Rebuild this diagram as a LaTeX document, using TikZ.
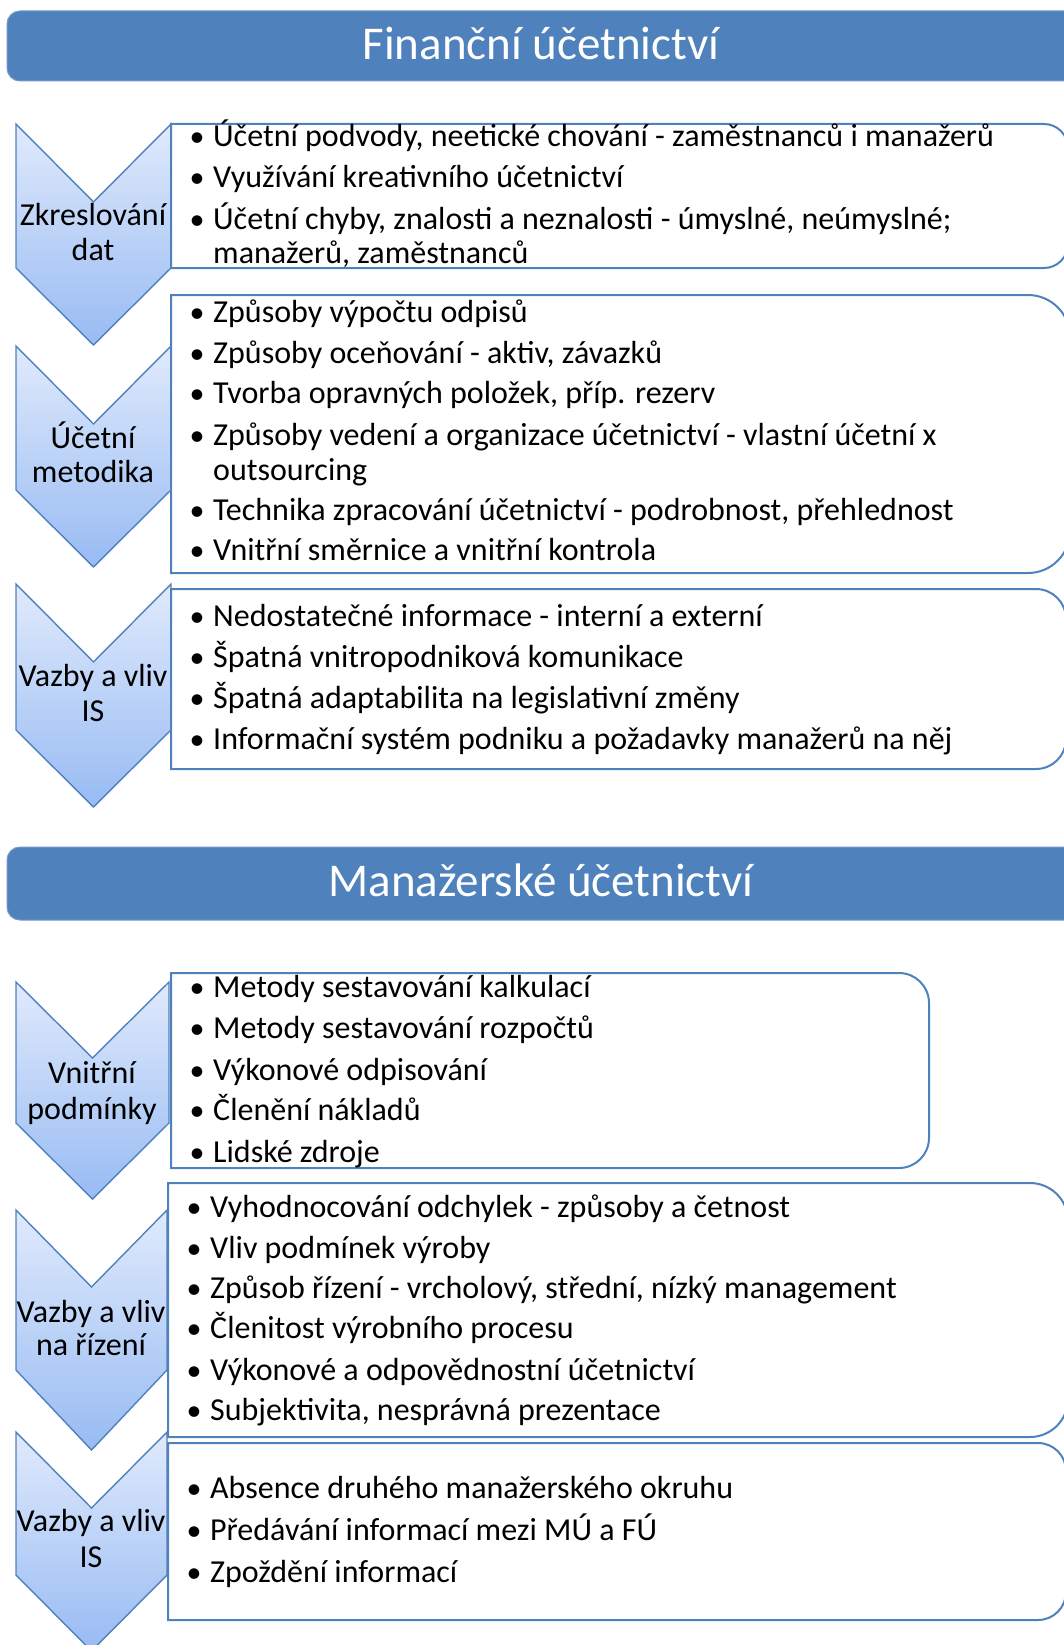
\documentclass[tikz,border=0pt]{standalone}
\usepackage{fontspec}
\setmainfont{Carlito}
\definecolor{hdr}{RGB}{79,129,189}
\definecolor{edge}{RGB}{79,129,189}
\definecolor{chtop}{RGB}{224,234,252}
\definecolor{chbot}{RGB}{152,187,243}

% chevron pointing down: x0, x1, top, notch, end of sides, tip
\newcommand\chevronshape[6]{%
  \draw[chev] (#1,#3) -- ({(#1+#2)/2},#4) -- (#2,#3) -- (#2,#5)
    -- ({(#1+#2)/2},#6) -- (#1,#5) -- cycle;}
% box with square left corners and rounded right corners: x0, y0, x1, y1, radius
\newcommand\itemframe[5]{%
  \draw[ibox] (#1,#2) -- ({#3-#5},#2)
    .. controls ({#3-0.448*#5},#2) and (#3,{#2+0.448*#5}) .. (#3,{#2+#5})
    -- (#3,{#4-#5})
    .. controls (#3,{#4-0.448*#5}) and ({#3-0.448*#5},#4) .. ({#3-#5},#4)
    -- (#1,#4) -- cycle;}
% bullet item: name, x of text, baseline, text
\newcommand\bul[4]{%
  \node[dot] (#1b) at ({#2-16},#3) {•};
  \node[item] (#1) at (#2,#3) {#4};}
% continuation line of a wrapped item
\newcommand\cont[4]{\node[item] (#1) at (#2,#3) {#4};}

\tikzset{
  chev/.style={draw=edge, line width=1.4pt, line join=miter,
    top color=chtop, bottom color=chbot},
  ibox/.style={draw=edge, line width=2pt, fill=white},
  hdrbox/.style={fill=hdr, draw=hdr!80!white, line width=1pt, rounded corners=13pt},
  item/.style={anchor=base west, inner sep=0pt, font=\fontsize{32}{37}\selectfont},
  dot/.style={anchor=base, inner sep=0pt, font=\fontsize{30}{35}\selectfont},
  lbl/.style={anchor=base, inner sep=0pt, font=\fontsize{32}{37}\selectfont},
  head/.style={anchor=base, inner sep=0pt, text=white, font=\fontsize{47}{54}\selectfont},
}

\begin{document}
\begin{tikzpicture}[x=1pt, y=-1pt]
\useasboundingbox (0,0) rectangle (1064,1645);
\begin{scope}
\clip (0,0) rectangle (1064,1645);

% ---------- Finanční účetnictví ----------
\draw[hdrbox] (7,11) rectangle (1090,81);
\node[head] (h1) at (541,60) {Finanční účetnictví};

\chevronshape{16}{171}{124}{202}{268}{345}
\chevronshape{16}{171}{346}{424}{490}{567}
\chevronshape{16}{171}{584}{662}{730}{807}

\itemframe{171}{124}{1068}{268}{24}
\itemframe{171}{295}{1070}{573}{42}
\itemframe{171}{589}{1066}{769}{30}

\node[lbl] (c1a) at (93,226) {Zkreslování};
\node[lbl] (c1b) at (93,260) {dat};
\node[lbl] (c2a) at (93,448) {Účetní};
\node[lbl] (c2b) at (93,482) {metodika};
\node[lbl] (c3a) at (93,686) {Vazby a vliv};
\node[lbl] (c3b) at (93,721) {IS};

\bul{a1}{213}{147}{Účetní podvody, neetické chování - zaměstnanců i manažerů}
\bul{a2}{213}{188}{Využívání kreativního účetnictví}
\bul{a3}{213}{230}{Účetní chyby, znalosti a neznalosti - úmyslné, neúmyslné;}
\cont{a3c}{213}{263}{manažerů, zaměstnanců}

\bul{b1}{213}{322}{Způsoby výpočtu odpisů}
\bul{b2}{213}{363}{Způsoby oceňování - aktiv, závazků}
\bul{b3}{213}{403}{Tvorba opravných položek, příp. rezerv}
\bul{b4}{213}{445}{Způsoby vedení a organizace účetnictví - vlastní účetní x}
\cont{b4c}{213}{480}{outsourcing}
\bul{b5}{213}{520}{Technika zpracování účetnictví - podrobnost, přehlednost}
\bul{b6}{213}{560}{Vnitřní směrnice a vnitřní kontrola}

\bul{d1}{213}{626}{Nedostatečné informace - interní a externí}
\bul{d2}{213}{667}{Špatná vnitropodniková komunikace}
\bul{d3}{213}{708}{Špatná adaptabilita na legislativní změny}
\bul{d4}{213}{749}{Informační systém podniku a požadavky manažerů na něj}

% ---------- Manažerské účetnictví ----------
\draw[hdrbox] (7,847) rectangle (1090,920);
\node[head] (h2) at (541,896) {Manažerské účetnictví};

\chevronshape{16}{169}{982}{1058}{1123}{1199}
\chevronshape{16}{167}{1210}{1287}{1370}{1450}
\chevronshape{16}{167}{1432}{1508}{1575}{1651}

\itemframe{171}{973}{929}{1168}{30}
\itemframe{168}{1183}{1068}{1437}{38}
\itemframe{168}{1443}{1066}{1620}{28}

\node[lbl] (c4a) at (92,1083) {Vnitřní};
\node[lbl] (c4b) at (92,1119) {podmínky};
\node[lbl] (c5a) at (91,1322) {Vazby a vliv};
\node[lbl] (c5b) at (91,1355) {na řízení};
\node[lbl] (c6a) at (91,1531) {Vazby a vliv};
\node[lbl] (c6b) at (91,1567) {IS};

\bul{e1}{213}{997}{Metody sestavování kalkulací}
\bul{e2}{213}{1038}{Metody sestavování rozpočtů}
\bul{e3}{213}{1080}{Výkonové odpisování}
\bul{e4}{213}{1120}{Členění nákladů}
\bul{e5}{213}{1162}{Lidské zdroje}

\bul{f1}{210}{1217}{Vyhodnocování odchylek - způsoby a četnost}
\bul{f2}{210}{1258}{Vliv podmínek výroby}
\bul{f3}{210}{1298}{Způsob řízení - vrcholový, střední, nízký management}
\bul{f4}{210}{1338}{Členitost výrobního procesu}
\bul{f5}{210}{1380}{Výkonové a odpovědnostní účetnictví}
\bul{f6}{210}{1420}{Subjektivita, nesprávná prezentace}

\bul{g1}{210}{1498}{Absence druhého manažerského okruhu}
\bul{g2}{210}{1540}{Předávání informací mezi MÚ a FÚ}
\bul{g3}{210}{1582}{Zpoždění informací}
\end{scope}
\end{tikzpicture}
\end{document}
